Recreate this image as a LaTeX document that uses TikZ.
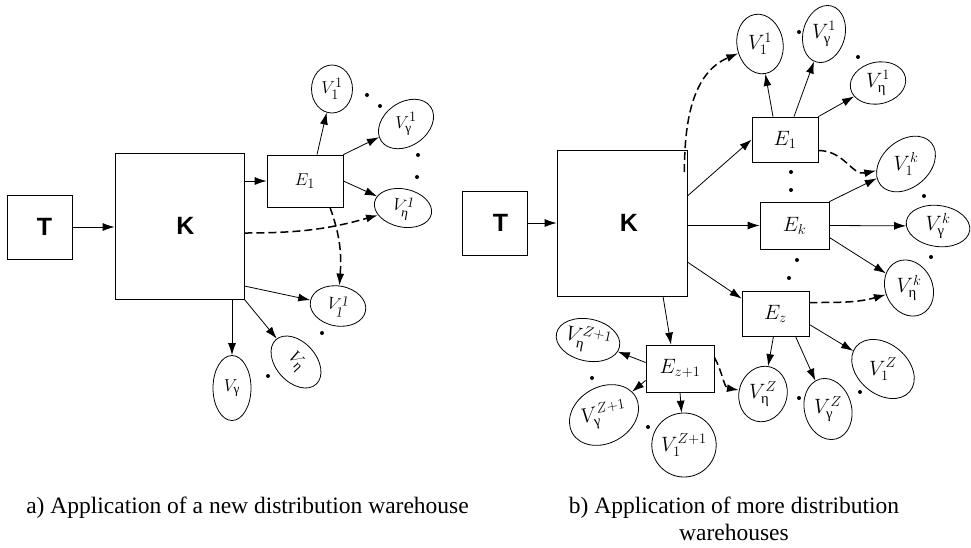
\documentclass[tikz,border=0pt]{standalone}
\usepackage{amsmath}
\usepackage{fontspec}
\setmainfont{Liberation Serif}
\newfontfamily\arialfont{Liberation Sans}
\usepackage{tikz}
\usetikzlibrary{shapes.geometric}
\usetikzlibrary{arrows.meta}

\begin{document}
\begin{tikzpicture}[x=1pt,y=-1pt]

\tikzset{box/.style={draw, line width=0.8pt, inner sep=0pt},
  vtx/.style={draw, ellipse, line width=0.8pt, inner sep=0pt},
  arr/.style={-{Latex[length=12pt,width=8pt]}, line width=0.8pt},
  darr/.style={arr, line width=1.5pt, dash pattern=on 8pt off 4pt},
  big/.style={font=\arialfont\bfseries\fontsize{25}{30}\selectfont},
  laba/.style={font=\fontsize{19}{23}\selectfont},
  labb/.style={font=\fontsize{21}{25}\selectfont},
  captext/.style={font=\fontsize{23.5}{27}\selectfont, align=center, anchor=north, inner sep=0pt}
}

\useasboundingbox (0,0) rectangle (971,547);

% a) one warehouse
\node[box, big, minimum width=65pt, minimum height=64pt] (Ta) at (39.5,227) {\hspace*{10pt}T};
\node[box, big, minimum width=129pt, minimum height=146pt] (Ka) at (179.5,226) {\hspace*{12pt}K};
\node[box, laba, minimum width=76pt, minimum height=52pt] (Ea1) at (305,181) {$E_1$};

\node[vtx, laba, minimum width=41pt, minimum height=48pt] (Va11) at (332,89) {$V_1^1$};
\node[vtx, laba, minimum width=60pt, minimum height=38pt, rotate=35] (Vag1) at (406,124) {\rotatebox{-35}{$V_{\text{γ}}^1$}};
\node[vtx, laba, minimum width=58pt, minimum height=38pt, rotate=-12] (Vae1) at (403,208) {$V_{\text{η}}^1$};
\node[vtx, laba, minimum width=56pt, minimum height=40pt, rotate=-10] (Vai1) at (338,306) {$V_1^1$};
\node[vtx, laba, minimum width=60pt, minimum height=40pt, rotate=-48] (Vae) at (296,362) {$V_{\text{η}}$};
\node[vtx, laba, minimum width=38pt, minimum height=65pt] (Vag) at (232,388) {$V_{\text{γ}}$};

\draw[arr] (Ta.east) -- (Ta.east -| Ka.west);
\draw[arr] (Ka.east |- Ea1) -- (Ea1);
\draw[arr] ([xshift=12pt]Ea1.north) -- (Va11);
\draw[arr] (Ea1.north east) -- (Vag1);
\draw[arr] (Ea1.east) -- (Vae1);
\draw[darr] ([yshift=-7pt]Ka.east) to[out=0,in=200] (Vae1);
\draw[darr] ([xshift=25pt]Ea1.south) to[out=-70,in=90] (Vai1);
\draw[arr] ([yshift=-60pt]Ka.east) -- (Vai1);
\draw[arr] (Vag |- Ka.south) -- (Vag);
\draw[arr] (Ka.south east) -- (Vae);

\foreach \x/\y in {367/95, 380/106, 418/155, 417/177, 322/333, 268/376}
  \fill (\x,\y) circle (2pt);

% b) more warehouses
\node[box, big, minimum width=65pt, minimum height=64pt] (Tb) at (494.5,223) {\hspace*{12pt}T};
\node[box, big, minimum width=130pt, minimum height=146pt] (Kb) at (622,223) {\hspace*{14pt}K};
\node[box, labb, minimum width=66pt, minimum height=45pt] (Eb1) at (785,139.5) {$E_1$};
\node[box, labb, minimum width=69pt, minimum height=47pt] (Ebk) at (794.5,225.5) {$E_k$};
\node[box, labb, minimum width=67pt, minimum height=45pt] (Ebz) at (775.5,313.5) {$E_z$};
\node[box, labb, minimum width=68pt, minimum height=47pt] (Ebzz) at (680,368.5) {$E_{z+1}$};

\node[vtx, labb, minimum width=46pt, minimum height=60pt, rotate=10] (V11) at (760,44) {\rotatebox{-10}{$V_1^1$}};
\node[vtx, labb, minimum width=32pt, minimum height=58pt, rotate=-15] (Vg1) at (824,34) {\rotatebox{15}{$V_{\text{γ}}^1$}};
\node[vtx, labb, minimum width=56pt, minimum height=38pt, rotate=12] (Ve1) at (878,83) {\rotatebox{-12}{$V_{\text{η}}^1$}};
\node[vtx, labb, minimum width=66pt, minimum height=46pt, rotate=40] (V1k) at (906,164) {\rotatebox{-40}{$V_1^k$}};
\node[vtx, labb, minimum width=64pt, minimum height=38pt, rotate=-8] (Vgk) at (938,226) {\rotatebox{8}{$V_{\text{γ}}^k$}};
\node[vtx, labb, minimum width=44pt, minimum height=58pt, rotate=25] (Vek) at (909,288) {\rotatebox{-25}{$V_{\text{η}}^k$}};
\node[vtx, labb, minimum width=70pt, minimum height=50pt, rotate=-40] (V1z) at (883,369) {\rotatebox{40}{$V_1^Z$}};
\node[vtx, labb, minimum width=46pt, minimum height=62pt, rotate=15] (Vgz) at (828,409) {\rotatebox{-15}{$V_{\text{γ}}^Z$}};
\node[vtx, labb, minimum width=48pt, minimum height=56pt, rotate=-15] (Vez) at (763,394) {\rotatebox{15}{$V_{\text{η}}^Z$}};
\node[vtx, labb, minimum width=50pt, minimum height=64pt] (V1zz) at (684,445) {$V_1^{Z+1}$};
\node[vtx, labb, minimum width=58pt, minimum height=46pt, rotate=30] (Vgzz) at (604,415) {\rotatebox{-20}{$V_{\text{γ}}^{Z+1}$}};
\node[vtx, labb, minimum width=58pt, minimum height=42pt, rotate=-12] (Vezz) at (588,340) {$V_{\text{η}}^{Z+1}$};

\draw[arr] (Tb.east) -- (Tb.east -| Kb.west);
\draw[arr] ([yshift=27pt]Kb.east) -- (Eb1.west);
\draw[arr] (Kb.east |- Ebk.west) -- (Ebk.west);
\draw[arr] ([yshift=-39pt]Kb.east) -- ([yshift=-8pt]Ebz.north west);
\draw[arr] ([xshift=41pt]Kb.south) -- ([xshift=-9pt]Ebzz.north);
\draw[darr] ([xshift=-3pt,yshift=51pt]Kb.east) to[out=90,in=200] (V11);
\draw[arr] ([xshift=-12pt]Eb1.north) -- (V11);
\draw[arr] ([xshift=9pt]Eb1.north) -- (Vg1);
\draw[arr] (Eb1.north east) -- (Ve1);
\draw[darr] ([yshift=-11pt]Eb1.east) to[out=0,in=170] (V1k);
\draw[arr] (Ebk.north east) -- (V1k);
\draw[arr] (Ebk.east) -- (Vgk);
\draw[arr] ([yshift=-12pt]Ebk.east) -- (Vek);
\draw[darr] ([yshift=11pt]Ebz.east) to[out=0,in=185] (Vek);
\draw[arr] ([yshift=-11pt]Ebz.east) -- (V1z);
\draw[arr] ([xshift=20pt]Ebz.south) -- (Vgz);
\draw[arr] ([xshift=-2pt]Ebz.south) -- (Vez);
\draw[arr] (Ebzz.south) -- (V1zz);
\draw[arr] ([yshift=6pt]Ebzz.west) -- (Vezz);
\draw[arr] ([yshift=-12pt]Ebzz.west) -- (Vgzz);
\draw[darr] ([yshift=11pt]Ebzz.east) to[out=-60,in=180] (Vez);

\foreach \x/\y in {799/32, 858/57, 791/172, 791/190, 924/196, 931/257,
  797/260, 789/278, 860/392, 799/398, 592/378, 648/427}
  \fill (\x,\y) circle (2pt);

% captions
\node[captext] (capa) at (247.5,497) {a) Application of a new distribution warehouse};
\node[captext] (capb) at (734,497) {b) Application of more distribution\\warehouses};

\end{tikzpicture}
\end{document}
